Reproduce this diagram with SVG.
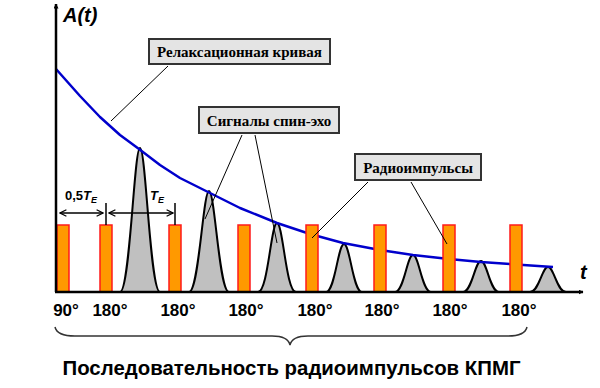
<svg xmlns="http://www.w3.org/2000/svg" width="600" height="388" viewBox="0 0 600 388">
<style>
.pulse{fill:#ff9900;stroke:#ff1a1a;stroke-width:1.5}
.echo{fill:#c0c0c0;stroke:#000;stroke-width:2}
.axis{stroke:#000;stroke-width:2.5;fill:none}
.lead{stroke:#000;stroke-width:1;fill:none}
.box{fill:#e4e4e4;stroke:#333;stroke-width:2}
.btxt{font-family:"Liberation Serif",serif;font-weight:bold;font-size:15px;fill:#000}
.deg{font-family:"Liberation Sans",Arial,sans-serif;font-weight:bold;font-size:17px;fill:#000;text-anchor:middle}
.dim{stroke:#000;stroke-width:1.5;fill:none}
.it{font-family:"Liberation Sans",Arial,sans-serif;font-weight:bold;font-style:italic;fill:#000}
</style>
<defs>
<marker id="ah" viewBox="0 0 10 10" refX="9" refY="5" markerWidth="5" markerHeight="5" orient="auto-start-reverse" markerUnits="userSpaceOnUse">
<path d="M0,0 L10,5 L0,10 Z" fill="#000"/>
</marker>
<marker id="dh" viewBox="0 0 10 10" refX="9" refY="5" markerWidth="8" markerHeight="8" orient="auto-start-reverse" markerUnits="userSpaceOnUse">
<path d="M1,1 L9,5 L1,9" fill="none" stroke="#000" stroke-width="1.5"/>
</marker>
</defs>
<rect width="600" height="388" fill="#fff"/>

<g id="echoes">
<path class="echo" d="M120,292 C130,292 134,148 140,148 C146,148 150,292 160,292 Z"/>
<path class="echo" d="M189,292 C199,292 203,191 209,191 C215,191 219,292 229,292 Z"/>
<path class="echo" d="M258,292 C268,292 271,223 277,223 C283,223 286,292 296,292 Z"/>
<path class="echo" d="M326,292 C335,292 338,244 344,244 C350,244 353,292 362,292 Z"/>
<path class="echo" d="M395,292 C404,292 407,255 413,255 C419,255 422,292 431,292 Z"/>
<path class="echo" d="M463,292 C472,292 475,261 481,261 C487,261 490,292 499,292 Z"/>
<path class="echo" d="M530,292 C539,292 542,267 548,267 C554,267 557,292 566,292 Z"/>
</g>

<g id="curve">
<polyline fill="none" stroke="#0000cc" stroke-width="2.5" stroke-linejoin="round" points="56,69 80,96 100,117 120,135 139,149 160,165 180,178 208,192 240,208 277,223 310,234 343,243 380,250 413,255 449,259 481,262 516,264.5 553,267"/>
</g>

<g id="pulses">
<rect class="pulse" x="57" y="225" width="12" height="67"/>
<rect class="pulse" x="100" y="225" width="12" height="67"/>
<rect class="pulse" x="169" y="225" width="12" height="67"/>
<rect class="pulse" x="238" y="225" width="12" height="67"/>
<rect class="pulse" x="306" y="225" width="12" height="67"/>
<rect class="pulse" x="374" y="225" width="12" height="67"/>
<rect class="pulse" x="443" y="225" width="12" height="67"/>
<rect class="pulse" x="510" y="225" width="12" height="67"/>
</g>

<g id="axes">
<line class="axis" x1="56" y1="292" x2="56" y2="4" marker-end="url(#ah)"/>
<line class="axis" x1="55" y1="292" x2="583" y2="292" marker-end="url(#ah)"/>
<text class="it" x="63" y="22" font-size="20">A(t)</text>
<text class="it" x="580" y="279" font-size="20">t</text>
</g>

<g id="connectors">
<line class="lead" x1="168" y1="66" x2="111" y2="121"/>
<line class="lead" x1="242" y1="135" x2="205" y2="219"/>
<line class="lead" x1="255" y1="135" x2="277" y2="243"/>
<line class="lead" x1="368" y1="182" x2="312" y2="238"/>
<line class="lead" x1="411" y1="182" x2="447" y2="244"/>
</g>

<g id="label-relax">
<rect class="box" x="149" y="39" width="181" height="25"/>
<text class="btxt" x="239.5" y="57" text-anchor="middle">Релаксационная кривая</text>
</g>
<g id="label-echo">
<rect class="box" x="199" y="107" width="140" height="26"/>
<text class="btxt" x="269" y="125.5" text-anchor="middle">Сигналы спин-эхо</text>
</g>
<g id="label-pulses">
<rect class="box" x="355" y="154" width="126" height="26"/>
<text class="btxt" x="418" y="172.5" text-anchor="middle">Радиоимпульсы</text>
</g>

<g id="dimensions">
<line class="dim" x1="106" y1="203" x2="106" y2="225"/>
<line class="dim" x1="175" y1="203" x2="175" y2="225"/>
<line class="dim" x1="60" y1="213" x2="103" y2="213" marker-start="url(#dh)" marker-end="url(#dh)"/>
<line class="dim" x1="109" y1="213" x2="173" y2="213" marker-start="url(#dh)" marker-end="url(#dh)"/>
<text class="it" x="65" y="200" font-size="13"><tspan font-style="normal">0,5</tspan><tspan>T</tspan><tspan font-size="9" dy="3">E</tspan></text>
<text class="it" x="150" y="200" font-size="13">T<tspan font-size="9" dy="3">E</tspan></text>
</g>

<g id="degrees">
<text class="deg" x="66" y="316">90°</text>
<text class="deg" x="110" y="316">180°</text>
<text class="deg" x="178" y="316">180°</text>
<text class="deg" x="246" y="316">180°</text>
<text class="deg" x="315" y="316">180°</text>
<text class="deg" x="382" y="316">180°</text>
<text class="deg" x="450" y="316">180°</text>
<text class="deg" x="519" y="316">180°</text>
</g>

<g id="brace">
<path d="M55,327 Q57,336 75,336 L272,336 Q288,336 290,345 Q292,336 308,336 L508,336 Q525,336 527,327" fill="none" stroke="#333" stroke-width="1.5"/>
</g>

<g id="title">
<text x="291.5" y="375" text-anchor="middle" font-family="'Liberation Sans',Arial,sans-serif" font-weight="bold" font-size="20.4" fill="#000">Последовательность радиоимпульсов КПМГ</text>
</g>
</svg>
